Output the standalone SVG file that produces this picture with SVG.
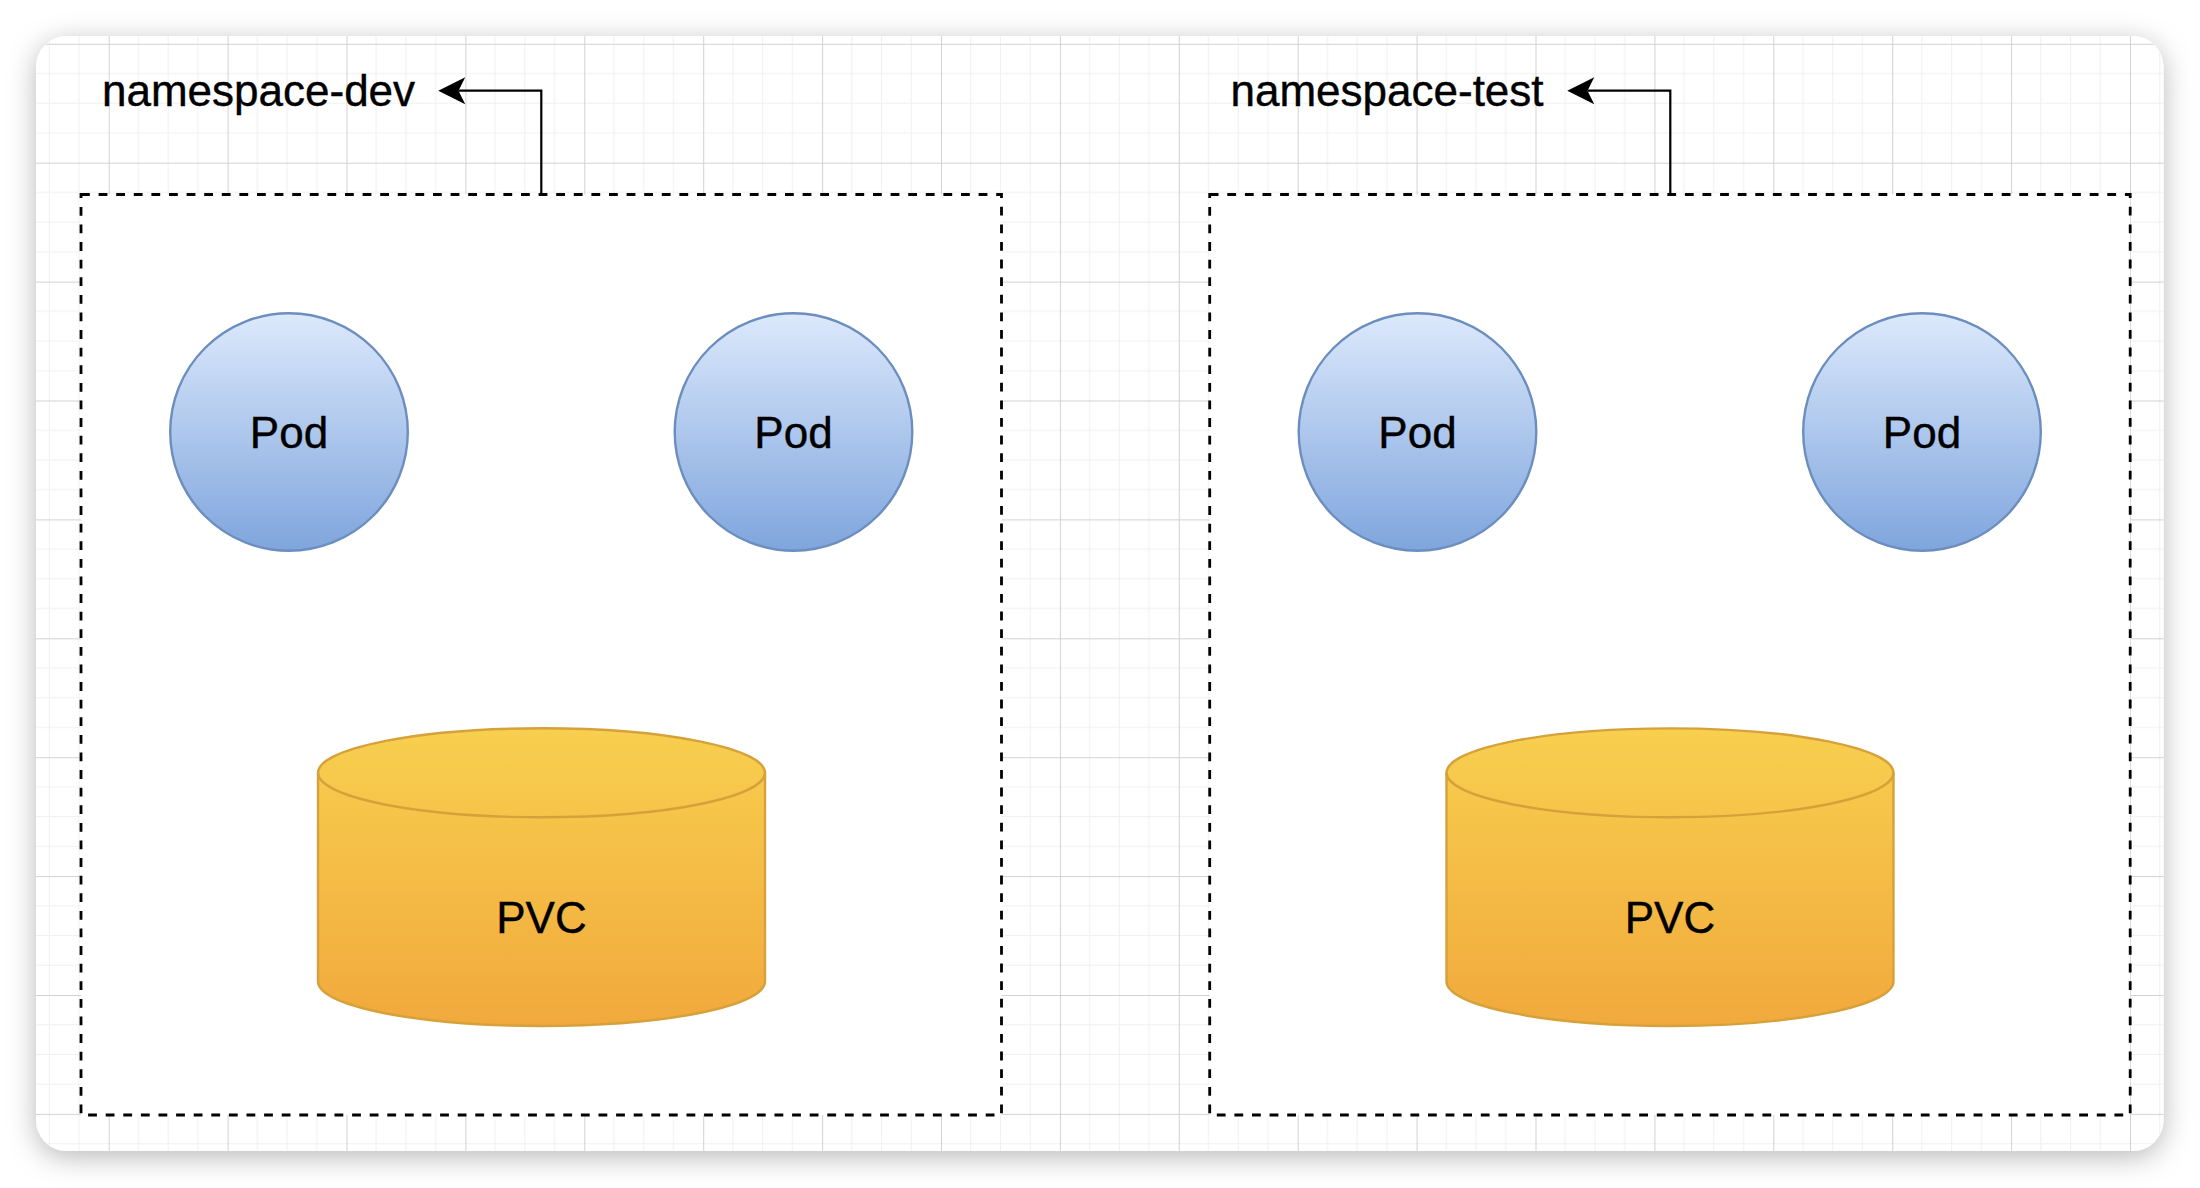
<svg xmlns="http://www.w3.org/2000/svg" width="2200" height="1188" viewBox="0 0 2200 1188">
  <defs>
    <filter id="shadow" x="-10%" y="-10%" width="120%" height="120%">
      <feDropShadow dx="0" dy="6" stdDeviation="14" flood-color="#000" flood-opacity="0.28"/>
    </filter>
    <pattern id="grid" patternUnits="userSpaceOnUse" x="108.7" y="43.8" width="118.9" height="118.9">
      <g stroke="#f0f0f0" stroke-width="1">
        <line x1="29.725" y1="0" x2="29.725" y2="118.9"/>
        <line x1="59.45" y1="0" x2="59.45" y2="118.9"/>
        <line x1="89.175" y1="0" x2="89.175" y2="118.9"/>
        <line x1="0" y1="29.725" x2="118.9" y2="29.725"/>
        <line x1="0" y1="59.45" x2="118.9" y2="59.45"/>
        <line x1="0" y1="89.175" x2="118.9" y2="89.175"/>
      </g>
      <g stroke="#d2d2d2" stroke-width="1">
        <line x1="0.5" y1="0" x2="0.5" y2="118.9"/>
        <line x1="0" y1="0.5" x2="118.9" y2="0.5"/>
      </g>
    </pattern>
    <linearGradient id="podFill" x1="0" y1="0" x2="0" y2="1">
      <stop offset="0" stop-color="#dce9fc"/>
      <stop offset="1" stop-color="#7fa5dd"/>
    </linearGradient>
    <linearGradient id="pvcFill" x1="0" y1="0" x2="0" y2="1">
      <stop offset="0" stop-color="#f8cf4f"/>
      <stop offset="1" stop-color="#f1a93c"/>
    </linearGradient>
    <marker id="arrow" markerUnits="userSpaceOnUse" viewBox="-8 -15 30 30" refX="0" refY="0" markerWidth="30" markerHeight="30" orient="auto">
      <path d="M20.25,0 L-6.75,-13.5 L0,0 L-6.75,13.5 Z" fill="#000"/>
    </marker>
  </defs>
  <style>
    .box { fill: #ffffff; stroke: #000000; stroke-width: 2.8; stroke-dasharray: 8.8 8.8; }
    .pod { fill: url(#podFill); stroke: #6c8ebf; stroke-width: 2.4; }
    .pvc { fill: url(#pvcFill); stroke: #d6a13a; stroke-width: 2.4; }
    .pvc-rim { fill: none; stroke: #d6a13a; stroke-width: 2.4; }
    .lbl { font-family: "Liberation Sans", Arial, Helvetica, sans-serif; font-size: 44px; fill: #000; stroke: #000; stroke-width: 0.4; }
    .mid { text-anchor: middle; }
    .conn { fill: none; stroke: #000; stroke-width: 2.2; marker-end: url(#arrow); }
  </style>

  <rect width="2200" height="1188" fill="#ffffff"/>

  <g id="card">
    <rect x="36" y="36" width="2127.5" height="1115" rx="31" ry="31" fill="#ffffff" filter="url(#shadow)"/>
    <rect x="36" y="36" width="2127.5" height="1115" rx="31" ry="31" fill="url(#grid)"/>
  </g>

  <g id="namespace-dev">
    <rect class="box" x="81" y="194.5" width="920.5" height="920.5"/>
  </g>
  <g id="namespace-test">
    <rect class="box" x="1209.7" y="194.5" width="920.5" height="920.5"/>
  </g>

  <g id="label-namespace-dev">
    <text class="lbl" x="102" y="106">namespace-dev</text>
  </g>
  <g id="label-namespace-test">
    <text class="lbl" x="1230.5" y="106">namespace-test</text>
  </g>

  <g id="pod-dev-1">
    <circle class="pod" cx="289" cy="432" r="118.8"/>
    <text class="lbl mid" x="289" y="448">Pod</text>
  </g>
  <g id="pod-dev-2">
    <circle class="pod" cx="793.5" cy="432" r="118.8"/>
    <text class="lbl mid" x="793.5" y="448">Pod</text>
  </g>
  <g id="pod-test-1">
    <circle class="pod" cx="1417.5" cy="432" r="118.8"/>
    <text class="lbl mid" x="1417.5" y="448">Pod</text>
  </g>
  <g id="pod-test-2">
    <circle class="pod" cx="1922" cy="432" r="118.8"/>
    <text class="lbl mid" x="1922" y="448">Pod</text>
  </g>

  <g id="pvc-dev">
    <path class="pvc" d="M318,772.8 A223.5,44.5 0 0 1 765,772.8 V981.5 A223.5,44.5 0 0 1 318,981.5 Z"/>
    <path class="pvc-rim" d="M318,772.8 A223.5,44.5 0 0 0 765,772.8"/>
    <text class="lbl mid" x="541.5" y="932.5">PVC</text>
  </g>
  <g id="pvc-test">
    <path class="pvc" d="M1446.5,772.8 A223.5,44.5 0 0 1 1893.5,772.8 V981.5 A223.5,44.5 0 0 1 1446.5,981.5 Z"/>
    <path class="pvc-rim" d="M1446.5,772.8 A223.5,44.5 0 0 0 1893.5,772.8"/>
    <text class="lbl mid" x="1670" y="932.5">PVC</text>
  </g>

  <g id="connectors">
    <path class="conn" d="M541.3,194 V90.7 H458.5"/>
    <path class="conn" d="M1670.3,194 V90.7 H1587.5"/>
  </g>
</svg>
